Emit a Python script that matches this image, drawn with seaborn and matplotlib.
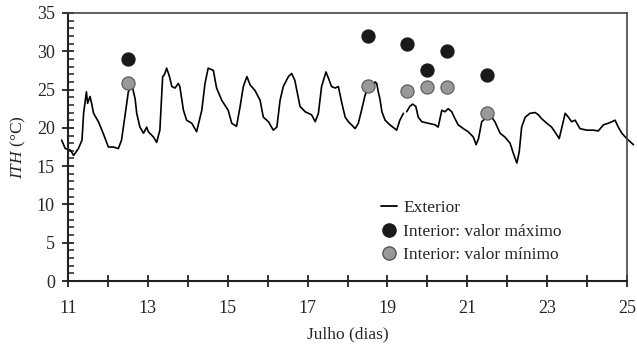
import matplotlib
matplotlib.use("Agg")
import matplotlib.pyplot as plt
import numpy as np
import pandas as pd
import seaborn as sns
from matplotlib.lines import Line2D
from matplotlib.ticker import FixedLocator, MultipleLocator

# exterior ITH (day of July, value)
ext_day = [
    10.84, 10.93, 11.06, 11.14, 11.26, 11.35, 11.39, 11.46, 11.49, 11.55,
    11.59, 11.64, 11.76, 11.88, 12.01, 12.13, 12.26, 12.34, 12.40, 12.47,
    12.51, 12.60, 12.68, 12.72, 12.80, 12.89, 12.97, 13.01, 13.14, 13.22,
    13.30, 13.37, 13.41, 13.47, 13.54, 13.60, 13.68, 13.76, 13.80, 13.89,
    13.97, 14.10, 14.22, 14.35, 14.43, 14.51, 14.64, 14.72, 14.85, 15.01,
    15.10, 15.22, 15.31, 15.39, 15.48, 15.56, 15.68, 15.81, 15.89, 16.02,
    16.14, 16.23, 16.31, 16.39, 16.52, 16.60, 16.68, 16.81, 16.94, 17.10,
    17.19, 17.27, 17.35, 17.46, 17.52, 17.60, 17.69, 17.77, 17.85, 17.94,
    18.02, 18.10, 18.19, 18.27, 18.36, 18.44, 18.52, 18.61, 18.69, 18.73,
    18.77, 18.81, 18.86, 18.94, 19.06, 19.23, 19.31, 19.40, 19.44, 19.48,
    19.56, 19.63, 19.71, 19.77, 19.86, 20.02, 20.19, 20.27, 20.36, 20.44,
    20.52, 20.61, 20.69, 20.77, 20.90, 21.02, 21.15, 21.22, 21.28, 21.36,
    21.40, 21.57, 21.69, 21.82, 21.94, 22.07, 22.15, 22.24, 22.30, 22.36,
    22.45, 22.57, 22.70, 22.78, 22.86, 22.99, 23.11, 23.24, 23.30, 23.36,
    23.45, 23.53, 23.61, 23.70, 23.82, 23.99, 24.15, 24.28, 24.41, 24.53,
    24.62, 24.70, 24.78, 24.87, 24.99, 25.16,
]
ext_ith = [
    18.4, 17.3, 17.1, 16.4, 17.3, 18.4, 21.9, 24.7, 23.2, 24.1,
    23.2, 21.9, 20.8, 19.3, 17.5, 17.5, 17.3, 18.4, 20.6, 23.2,
    24.7, 25.6, 23.8, 21.9, 20.1, 19.3, 20.1, 19.5, 18.8, 18.1,
    19.7, 26.7, 26.9, 27.8, 26.7, 25.4, 25.2, 25.8, 25.4, 22.3,
    21.0, 20.6, 19.5, 22.3, 25.8, 27.8, 27.5, 25.2, 23.6, 22.3,
    20.6, 20.2, 22.8, 25.4, 26.7, 25.6, 24.9, 23.6, 21.4, 20.8,
    19.7, 20.1, 23.6, 25.4, 26.7, 27.1, 26.2, 22.8, 22.1, 21.7,
    20.8, 21.9, 25.4, 27.3, 26.5, 25.4, 25.2, 25.4, 23.4, 21.4,
    20.8, 20.4, 19.9, 20.6, 22.5, 24.3, 25.2, 24.9, 26.0, 25.8,
    24.7, 23.8, 22.1, 21.0, 20.4, 19.7, 21.0, 21.9, np.nan, 22.1,
    22.8, 23.1, 22.8, 21.4, 20.8, 20.6, 20.4, 20.1, 22.3, 22.1,
    22.5, 22.1, 21.2, 20.4, 19.9, 19.5, 18.8, 17.8, 18.6, 20.8,
    21.0, 21.7, 20.8, 19.3, 18.8, 18.0, 16.7, 15.4, 16.9, 20.1,
    21.4, 21.9, 22.0, 21.7, 21.2, 20.6, 20.1, 19.1, 18.6, 19.9,
    21.9, 21.4, 20.8, 21.0, 19.9, 19.7, 19.7, 19.6, 20.4, 20.6,
    20.8, 21.0, 20.1, 19.3, 18.6, 17.8,
]

# interior daily extremes
int_day = [12.5, 18.5, 19.5, 20.0, 20.5, 21.5]
int_max = [29.0, 32.0, 30.9, 27.5, 30.1, 26.9]
int_min = [25.9, 25.5, 24.8, 25.3, 25.3, 21.9]

x_ticks = [11, 13, 15, 17, 19, 21, 23, 25]

sns.set_style("ticks")
plt.rcParams["font.family"] = ["Liberation Serif", "DejaVu Serif"]
plt.rcParams["mathtext.fontset"] = "custom"
plt.rcParams["mathtext.rm"] = "Liberation Serif"
plt.rcParams["mathtext.it"] = "Liberation Serif:italic"

ext = pd.DataFrame({"day": ext_day, "ith": ext_ith})
ext["seg"] = ext["ith"].isna().cumsum()
interior = pd.DataFrame({"day": int_day, "max": int_max, "min": int_min})

fig = plt.figure(figsize=(6.37, 3.51), dpi=100)
ax = fig.add_axes([0.1068, 0.1994, 0.8776, 0.7636])

sns.lineplot(data=ext.dropna(), x="day", y="ith", units="seg", estimator=None,
             sort=False, color="black", linewidth=1.2, ax=ax, clip_on=False)
sns.scatterplot(data=interior, x="day", y="max", color="#1a1a1a", s=90,
                edgecolor="#1a1a1a", linewidth=0.8, ax=ax, zorder=3)
sns.scatterplot(data=interior, x="day", y="min", color="#999999", s=90,
                edgecolor="#555555", linewidth=0.8, ax=ax, zorder=3)

ax.set_xlim(11, 25)
ax.set_ylim(0, 35)
ax.xaxis.set_major_locator(FixedLocator(x_ticks))
ax.xaxis.set_minor_locator(MultipleLocator(1))
ax.yaxis.set_major_locator(MultipleLocator(5))
ax.yaxis.set_minor_locator(MultipleLocator(1))
ax.tick_params(axis="both", which="major", direction="inout", length=9,
               width=1.3, color="#222222", labelsize=13)
ax.tick_params(axis="x", which="major", pad=9)
ax.tick_params(axis="y", which="major", pad=5)
ax.tick_params(axis="x", which="minor", direction="inout", length=8,
               width=1.3, color="#222222")
ax.tick_params(axis="y", which="minor", direction="in", length=4,
               width=1.1, color="#222222")

for side in ["left", "bottom"]:
    ax.spines[side].set_color("#222222")
    ax.spines[side].set_linewidth(1.5)
for side in ["top", "right"]:
    ax.spines[side].set_color("#444444")
    ax.spines[side].set_linewidth(1.2)

ax.set_xlabel("Julho (dias)", fontsize=12.5, labelpad=7)
ax.set_ylabel(r"$ITH$ (°C)", fontsize=12.5, labelpad=6)

handles = [
    Line2D([], [], color="black", linewidth=1.3),
    Line2D([], [], marker="o", linestyle="", markersize=9.5,
           markerfacecolor="#1a1a1a", markeredgecolor="#1a1a1a"),
    Line2D([], [], marker="o", linestyle="", markersize=9.5,
           markerfacecolor="#999999", markeredgecolor="#555555"),
]
labels = ["Exterior", "Interior: valor máximo", "Interior: valor mínimo"]
ax.legend(handles, labels, loc="upper left", bbox_to_anchor=(0.548, 0.328),
          frameon=False, fontsize=12.5, handlelength=0.9, handletextpad=0.35,
          labelspacing=0.42, borderaxespad=0)

fig.savefig("out.png", dpi=100)
